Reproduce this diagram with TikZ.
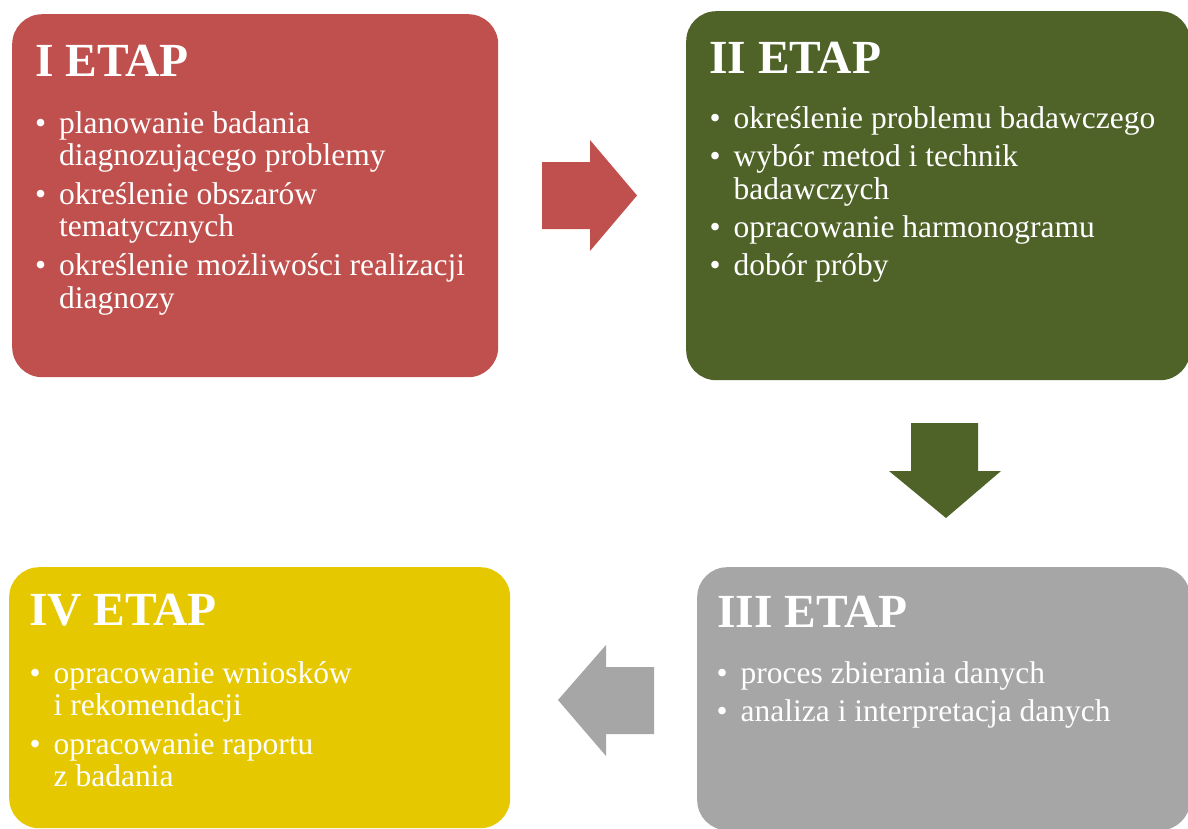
\documentclass[tikz,border=0pt]{standalone}
\usepackage{fontspec}
\setmainfont{Liberation Serif}
\definecolor{cred}{HTML}{C0504D}
\definecolor{cgreen}{HTML}{4F6228}
\definecolor{cgray}{HTML}{A6A6A6}
\definecolor{cyellow}{HTML}{E6C800}
\newcommand{\bitem}[1]{\par\hangindent=24pt\hangafter=1\noindent\makebox[24pt][l]{\textbullet}#1\par}
\newcommand{\bodytext}[1]{\vtop{\hsize=600pt\rightskip=0pt plus 1fil\parfillskip=0pt plus 1fil\fontsize{31.5}{32.8}\selectfont\parskip=5.5pt\relax #1}}
\tikzset{
  stagebox/.style={rectangle, rounded corners=30pt, anchor=north west, inner sep=0pt, draw=none},
  stitle/.style={anchor=base west, inner sep=0pt, text=white, font=\fontsize{47.5}{50}\selectfont\bfseries},
  sbody/.style={anchor=base west, inner sep=0pt, text=white},
}
\begin{document}
\begin{tikzpicture}[x=1pt,y=-1pt]
\useasboundingbox (0,0) rectangle (1188,828);
\fill[white] (0,0) rectangle (1188,828);
% boxes
\node[stagebox, fill=cred, minimum width=486pt, minimum height=363pt] (b1) at (12,14) {};
\node[stagebox, fill=cgreen, minimum width=504pt, minimum height=369pt] (b2) at (686,11) {};
\node[stagebox, fill=cgray, minimum width=493pt, minimum height=263pt] (b3) at (697,567) {};
\node[stagebox, fill=cyellow, minimum width=501pt, minimum height=261pt] (b4) at (9,567) {};
% arrows
\fill[cred] (542,162) -- (590,162) -- (590,140) -- (637,195.5) -- (590,251) -- (590,229) -- (542,229) -- cycle;
\fill[cgreen] (911,423) -- (978,423) -- (978,471) -- (1001,471) -- (946,518) -- (889,471) -- (911,471) -- cycle;
\fill[cgray] (654,667) -- (606,667) -- (606,645) -- (558,700) -- (606,756) -- (606,734) -- (654,734) -- cycle;
% titles
\node[stitle] (t1) at (35,76) {I ETAP};
\node[stitle] (t2) at (709,73) {II ETAP};
\node[stitle] (t3) at (717,627) {III ETAP};
\node[stitle] (t4) at (29,625) {IV ETAP};
% bodies
\node[sbody] (l1) at (35,133) {\bodytext{%
\bitem{planowanie badania\newline diagnozującego problemy}
\bitem{określenie obszarów\newline tematycznych}
\bitem{określenie możliwości realizacji\newline diagnozy}}};
\node[sbody] (l2) at (709.5,128) {\bodytext{%
\bitem{określenie problemu badawczego}
\bitem{wybór metod i technik\newline badawczych}
\bitem{opracowanie harmonogramu}
\bitem{dobór próby}}};
\node[sbody] (l3) at (716.5,683) {\bodytext{%
\bitem{proces zbierania danych}
\bitem{analiza i interpretacja danych}}};
\node[sbody] (l4) at (29.5,683) {\bodytext{%
\bitem{opracowanie wniosków\newline i rekomendacji}
\bitem{opracowanie raportu\newline z badania}}};
\end{tikzpicture}
\end{document}
